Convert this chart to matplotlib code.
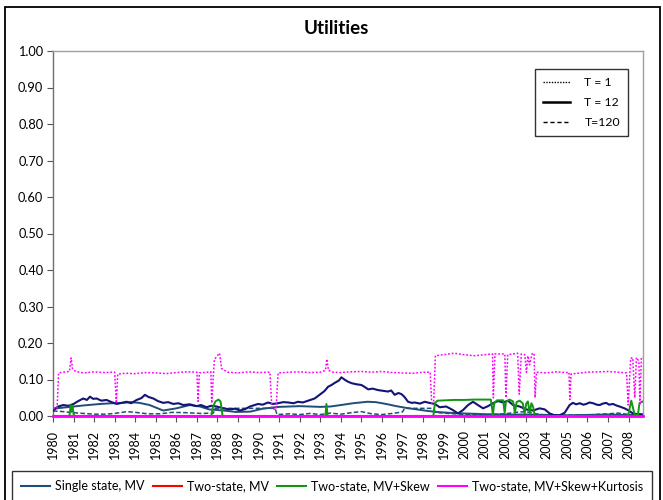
import matplotlib
matplotlib.use("Agg")
import matplotlib.pyplot as plt
from matplotlib.lines import Line2D
from matplotlib.patches import Rectangle

plt.rcParams['font.family'] = ['Lato', 'DejaVu Sans']

title = "Utilities"
year_ticks = list(range(1980, 2009))
y_ticks = [0.0, 0.1, 0.2, 0.3, 0.4, 0.5, 0.6, 0.7, 0.8, 0.9, 1.0]
model_names = ["Single state, MV", "Two-state, MV", "Two-state, MV+Skew",
               "Two-state, MV+Skew+Kurtosis"]
horizon_names = ["T = 1", "T = 12", "T=120"]

# Single state, MV, T = 1 (navy, jagged)
single_t1_x = [1980.0, 1980.25, 1980.5, 1980.75, 1981.0, 1981.2, 1981.47, 1981.65, 1981.8, 1981.95,
               1982.12, 1982.35, 1982.6, 1982.85, 1983.1, 1983.35, 1983.58, 1983.8, 1984.07, 1984.3,
               1984.47, 1984.65, 1984.88, 1985.1, 1985.36, 1985.6, 1985.85, 1986.1, 1986.34, 1986.65,
               1986.98, 1987.2, 1987.47, 1987.7, 1987.96, 1988.3, 1988.6, 1988.85, 1989.1, 1989.35,
               1989.58, 1989.98, 1990.2, 1990.46, 1990.7, 1990.95, 1991.2, 1991.44, 1991.7, 1991.92,
               1992.15, 1992.41, 1992.73, 1993.06, 1993.2, 1993.38, 1993.55, 1993.71, 1993.9, 1994.03,
               1994.2, 1994.35, 1994.52, 1994.75, 1995.0, 1995.15, 1995.33, 1995.55, 1995.81, 1996.05,
               1996.3, 1996.45, 1996.62, 1996.8, 1996.95, 1997.1, 1997.27, 1997.45, 1997.6, 1997.85,
               1998.08, 1998.3, 1998.57, 1998.81, 1999.13, 1999.3, 1999.46, 1999.7, 1999.94, 2000.19,
               2000.43, 2000.67, 2000.92, 2001.16, 2001.4, 2001.65, 2001.89, 2002.13, 2002.38, 2002.7,
               2003.02, 2003.35, 2003.67, 2003.92, 2004.16, 2004.4, 2004.65, 2004.89, 2005.13, 2005.29,
               2005.45, 2005.62, 2005.8, 2005.94, 2006.1, 2006.27, 2006.45, 2006.59, 2006.75, 2006.91,
               2007.05, 2007.24, 2007.4, 2007.56, 2007.8, 2007.97, 2008.21, 2008.45, 2008.61, 2008.7]
single_t1_y = [0.015, 0.026, 0.030, 0.028, 0.033, 0.040, 0.048, 0.044, 0.053, 0.047,
               0.048, 0.042, 0.044, 0.038, 0.033, 0.036, 0.039, 0.035, 0.044, 0.049,
               0.058, 0.052, 0.048, 0.041, 0.036, 0.038, 0.033, 0.035, 0.030, 0.032,
               0.027, 0.030, 0.024, 0.028, 0.026, 0.021, 0.018, 0.020, 0.015, 0.019,
               0.026, 0.033, 0.031, 0.037, 0.033, 0.035, 0.038, 0.037, 0.035, 0.039,
               0.037, 0.042, 0.048, 0.062, 0.068, 0.080, 0.085, 0.091, 0.097, 0.106,
               0.099, 0.094, 0.090, 0.087, 0.085, 0.080, 0.073, 0.075, 0.071, 0.069,
               0.067, 0.070, 0.058, 0.063, 0.060, 0.052, 0.039, 0.036, 0.037, 0.034,
               0.039, 0.036, 0.033, 0.024, 0.026, 0.021, 0.016, 0.007, 0.016, 0.030,
               0.039, 0.030, 0.021, 0.027, 0.035, 0.041, 0.037, 0.042, 0.030, 0.026,
               0.018, 0.015, 0.021, 0.018, 0.007, 0.002, 0.002, 0.009, 0.030, 0.036,
               0.032, 0.035, 0.031, 0.033, 0.037, 0.035, 0.031, 0.030, 0.034, 0.036,
               0.031, 0.033, 0.029, 0.026, 0.021, 0.016, 0.007, 0.005, 0.005, 0.004]

# Single state, MV, T = 12 (smooth)
single_t12_x = [1980.0, 1980.5, 1981.0, 1981.5, 1982.3, 1982.9, 1983.4, 1983.75, 1984.2, 1984.7,
                1985.36, 1986.0, 1986.66, 1987.15, 1987.6, 1988.3, 1988.9, 1989.6, 1990.2, 1991.0,
                1992.0, 1993.0, 1993.5, 1994.0, 1994.6, 1995.3, 1995.7, 1996.2, 1996.7, 1997.2,
                1997.7, 1998.2, 1998.7, 1999.2, 2000.0, 2001.0, 2002.0, 2003.0, 2004.0, 2005.0,
                2006.0, 2007.0, 2008.0, 2008.7]
single_t12_y = [0.020, 0.023, 0.026, 0.029, 0.033, 0.035, 0.036, 0.038, 0.036, 0.030,
                0.015, 0.021, 0.030, 0.026, 0.018, 0.015, 0.011, 0.012, 0.020, 0.025,
                0.027, 0.025, 0.026, 0.030, 0.035, 0.039, 0.038, 0.033, 0.027, 0.022,
                0.018, 0.014, 0.011, 0.009, 0.007, 0.005, 0.004, 0.004, 0.003, 0.002,
                0.003, 0.004, 0.003, 0.002]

# Single state, MV, T = 120
single_t120_x = [1980.0, 1980.5, 1981.0, 1981.5, 1982.0, 1982.5, 1983.0, 1983.6, 1984.0, 1984.6,
                 1985.2, 1985.8, 1986.5, 1987.2, 1987.8, 1987.9, 1990.8, 1990.9, 1991.5, 1992.0,
                 1992.5, 1993.0, 1993.5, 1994.0, 1994.5, 1995.0, 1995.5, 1996.0, 1996.5, 1997.0,
                 1997.1, 1998.5, 1998.6, 1999.0, 2000.0, 2001.0, 2002.0, 2002.5, 2003.0, 2003.5,
                 2004.0, 2005.0, 2006.0, 2007.0, 2007.5, 2008.0, 2008.7]
single_t120_y = [0.014, 0.012, 0.009, 0.007, 0.005, 0.005, 0.007, 0.012, 0.010, 0.006,
                 0.006, 0.010, 0.009, 0.007, 0.008, 0.021, 0.021, 0.004, 0.006, 0.004,
                 0.007, 0.004, 0.008, 0.005, 0.009, 0.012, 0.006, 0.004, 0.007, 0.011,
                 0.021, 0.021, 0.010, 0.008, 0.004, 0.003, 0.006, 0.010, 0.012, 0.006,
                 0.002, 0.002, 0.003, 0.006, 0.008, 0.004, 0.002]

# Two-state, MV+Skew (green)
skew_x = [1980.0, 1980.8, 1980.86, 1980.9, 1980.95, 1981.0, 1981.05, 1987.7, 1987.78, 1987.9,
          1988.05, 1988.15, 1988.2, 1988.25, 1993.25, 1993.3, 1993.36, 1998.5, 1998.58, 1998.7,
          1999.5, 2000.0, 2000.5, 2001.0, 2001.3, 2001.36, 2001.4, 2001.46, 2001.6, 2001.9,
          2001.97, 2002.03, 2002.2, 2002.38, 2002.47, 2002.55, 2002.7, 2002.85, 2002.94,
          2003.02, 2003.1, 2003.19, 2003.27, 2003.35, 2003.43, 2003.5, 2007.97, 2008.13, 2008.29,
          2008.45, 2008.53, 2008.61, 2008.7]
skew_y = [0.0, 0.0, 0.030, 0.012, 0.028, 0.005, 0.0, 0.0, 0.025, 0.040,
          0.045, 0.040, 0.020, 0.0, 0.0, 0.033, 0.0, 0.0, 0.035, 0.042,
          0.044, 0.044, 0.045, 0.045, 0.045, 0.020, 0.002, 0.035, 0.043, 0.043,
          0.008, 0.038, 0.045, 0.040, 0.008, 0.038, 0.042, 0.035, 0.006,
          0.034, 0.040, 0.008, 0.035, 0.026, 0.002, 0.0, 0.0, 0.042, 0.004,
          0.002, 0.035, 0.038, 0.040]

# Two-state, MV+Skew+Kurtosis, T = 1 (magenta, dotted)
kurt_x = [1980.0, 1980.2, 1980.27, 1980.5, 1980.8, 1980.88, 1980.95, 1981.1, 1981.5, 1982.0,
          1982.5, 1983.0, 1983.08, 1983.15, 1983.5, 1984.0, 1984.5, 1985.0, 1985.5, 1986.0,
          1986.5, 1987.0, 1987.06, 1987.12, 1987.5, 1987.68, 1987.72, 1987.85, 1988.1, 1988.2,
          1988.5, 1989.0, 1989.5, 1990.0, 1990.55, 1990.65, 1990.85, 1990.95, 1991.5, 1992.0,
          1992.5, 1993.0, 1993.25, 1993.32, 1993.4, 1993.6, 1994.0, 1994.5, 1995.0, 1995.5,
          1996.0, 1996.5, 1997.0, 1997.5, 1998.0, 1998.35, 1998.42, 1998.52, 1998.6, 1999.0,
          1999.5, 2000.0, 2000.5, 2001.0, 2001.38, 2001.42, 2001.5, 2001.98, 2002.03, 2002.12,
          2002.6, 2002.68, 2002.78, 2002.95, 2003.03, 2003.1, 2003.18, 2003.3, 2003.4, 2003.45,
          2003.52, 2004.0, 2004.5, 2005.0, 2005.1, 2005.14, 2005.2, 2005.5, 2006.0, 2006.5,
          2007.0, 2007.5, 2007.9, 2007.98, 2008.1, 2008.2, 2008.3, 2008.38, 2008.5, 2008.55,
          2008.62, 2008.7]
kurt_y = [0.020, 0.022, 0.118, 0.120, 0.122, 0.159, 0.130, 0.122, 0.118, 0.121,
          0.119, 0.120, 0.035, 0.115, 0.117, 0.116, 0.119, 0.118, 0.116, 0.119,
          0.121, 0.120, 0.040, 0.118, 0.120, 0.121, 0.035, 0.155, 0.172, 0.130,
          0.120, 0.118, 0.121, 0.119, 0.120, 0.020, 0.018, 0.118, 0.120, 0.121,
          0.119, 0.120, 0.125, 0.156, 0.125, 0.120, 0.119, 0.121, 0.122, 0.120,
          0.122, 0.119, 0.118, 0.117, 0.120, 0.120, 0.035, 0.040, 0.165, 0.168,
          0.172, 0.168, 0.165, 0.168, 0.170, 0.050, 0.170, 0.170, 0.050, 0.168,
          0.172, 0.060, 0.170, 0.168, 0.120, 0.165, 0.140, 0.170, 0.172, 0.050,
          0.120, 0.118, 0.121, 0.119, 0.120, 0.045, 0.115, 0.117, 0.120, 0.121,
          0.122, 0.120, 0.118, 0.030, 0.158, 0.160, 0.050, 0.160, 0.150, 0.030,
          0.160, 0.160]

# lines that stay at zero over the whole sample
zero_x = [1980.0, 2008.7]
zero_y = [0.0, 0.0]

c_single = "#1F4E79"
c_navy = "#141478"
c_red = "#FF0000"
c_green = "#129612"
c_mag = "#FF00FF"

fig = plt.figure(figsize=(6.63, 5.0), dpi=100)
ax = fig.add_axes([53 / 663, 1 - 416 / 500, (643 - 53) / 663, (416 - 51) / 500])

ax.plot(zero_x, zero_y, color=c_red, lw=1.5, zorder=2)
ax.plot(zero_x, zero_y, color=c_green, lw=1.2, zorder=2)
ax.plot(single_t120_x, single_t120_y, color=c_single, lw=1.1, ls=(0, (3, 1.5)), zorder=3)
ax.plot(single_t12_x, single_t12_y, color=c_single, lw=1.4, zorder=3)
ax.plot(single_t1_x, single_t1_y, color=c_navy, lw=1.5, zorder=4)
ax.plot(skew_x, skew_y, color=c_green, lw=1.4, zorder=5)
ax.plot(kurt_x, kurt_y, color=c_mag, lw=1.1, ls=(0, (1.2, 1.2)), zorder=6)
ax.plot(zero_x, zero_y, color=c_mag, lw=2.0, zorder=7, clip_on=False)

ax.set_xlim(1980.0, 2008.7)
ax.set_ylim(0, 1.0)
ax.set_yticks(y_ticks)
ax.set_yticklabels([f"{v:.2f}" for v in y_ticks])
ax.set_xticks(year_ticks)
ax.set_xticklabels([str(y) for y in year_ticks], rotation=90)
ax.tick_params(axis='y', direction='out', length=4, width=0.8, color='#555555',
               labelsize=9.2, pad=3)
ax.tick_params(axis='x', direction='out', length=4, width=0.8, color='#555555',
               labelsize=9.0, pad=6)
for s in ['top', 'right']:
    ax.spines[s].set_color('#a0a0a0')
    ax.spines[s].set_linewidth(1.0)
for s in ['left', 'bottom']:
    ax.spines[s].set_color('#707070')
    ax.spines[s].set_linewidth(1.0)

fig.text(336 / 663, 1 - 28 / 500, title, ha='center', va='center',
         fontsize=13.5, fontweight='bold')

# horizon legend inside plot
h_handles = [Line2D([], [], color='black', lw=1.0, ls=(0, (1, 1))),
             Line2D([], [], color='black', lw=1.8),
             Line2D([], [], color='black', lw=1.0, ls=(0, (3, 2)))]
leg1 = ax.legend(h_handles, horizon_names, loc='upper left',
                 bbox_to_anchor=(535 / 663, 1 - 69 / 500), bbox_transform=fig.transFigure,
                 frameon=True, fancybox=False, edgecolor='black', fontsize=8.8,
                 handlelength=2.2, handletextpad=1.2, labelspacing=0.75, borderpad=0.65,
                 borderaxespad=0)
leg1.get_frame().set_linewidth(1.0)

# model legend at the bottom
m_handles = [Line2D([], [], color=c, lw=1.5) for c in [c_single, c_red, c_green, c_mag]]
leg2 = fig.legend(m_handles, model_names, loc='upper left', ncol=4, mode='expand',
                  bbox_to_anchor=(12 / 663, 1 - 471 / 500, (652 - 12) / 663, 0.0),
                  frameon=True, fancybox=False, edgecolor='black', fontsize=9,
                  handlelength=2.3, handletextpad=0.4, borderpad=0.75, columnspacing=1.0,
                  borderaxespad=0)
leg2.get_frame().set_linewidth(1.0)

fig.patches.append(Rectangle((4.5 / 663, -0.05), (660 - 4.5) / 663, 1 - 7 / 500 + 0.05,
                             transform=fig.transFigure, fill=False, edgecolor='black',
                             linewidth=1.3))

fig.savefig("out.png", dpi=100)
